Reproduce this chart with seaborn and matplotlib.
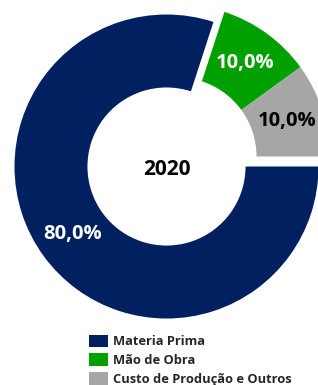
import numpy as np
import matplotlib
matplotlib.use("Agg")
import matplotlib.pyplot as plt
import seaborn as sns

# dados do grafico
categorias = ["Materia Prima", "Mão de Obra", "Custo de Produção e Outros"]
valores = [80.0, 10.0, 10.0]
cores = ["#002060", "#00A000", "#A6A6A6"]
cores_texto = ["white", "white", "black"]
ano = "2020"

sns.set_theme(style="white")
plt.rcParams["font.family"] = ["Open Sans", "DejaVu Sans"]

fig = plt.figure(figsize=(3.18, 3.85), dpi=100)
ax = fig.add_axes([0.0456, 0.1727, 0.956, 0.7896])

wedges, textos, pcts = ax.pie(
    valores,
    colors=cores,
    startangle=0,
    counterclock=False,
    radius=1.0,
    wedgeprops=dict(width=0.48, linewidth=0),
    autopct=lambda p: f"{p:.1f}%".replace(".", ","),
    pctdistance=0.76,
    textprops=dict(fontsize=14.5, fontweight="bold"),
)

# fatias destacadas (mão de obra + outros) deslocadas juntas
desloc = (0.072, 0.066)
for i in (1, 2):
    wedges[i].set_center(desloc)
    x, y = pcts[i].get_position()
    pcts[i].set_position((x + desloc[0], y + desloc[1]))

for w in wedges:
    w.set_clip_on(False)
for t, c in zip(pcts, cores_texto):
    t.set_color(c)
    t.set_clip_on(False)

ax.text(0, -0.02, ano, ha="center", va="center", fontsize=15, fontweight="bold", color="black")

ax.set_xlim(-1, 1)
ax.set_ylim(-1, 1)
ax.set_aspect("auto")
ax.axis("off")

fig.legend(
    wedges, categorias,
    loc="upper left", bbox_to_anchor=(0.279, 0.131),
    frameon=False,
    prop=dict(weight="bold", size=9.3),
    handlelength=1.5, handleheight=1.15, handletextpad=0.4,
    labelspacing=0.38, borderaxespad=0, borderpad=0,
)

fig.savefig("out.png", dpi=100)
